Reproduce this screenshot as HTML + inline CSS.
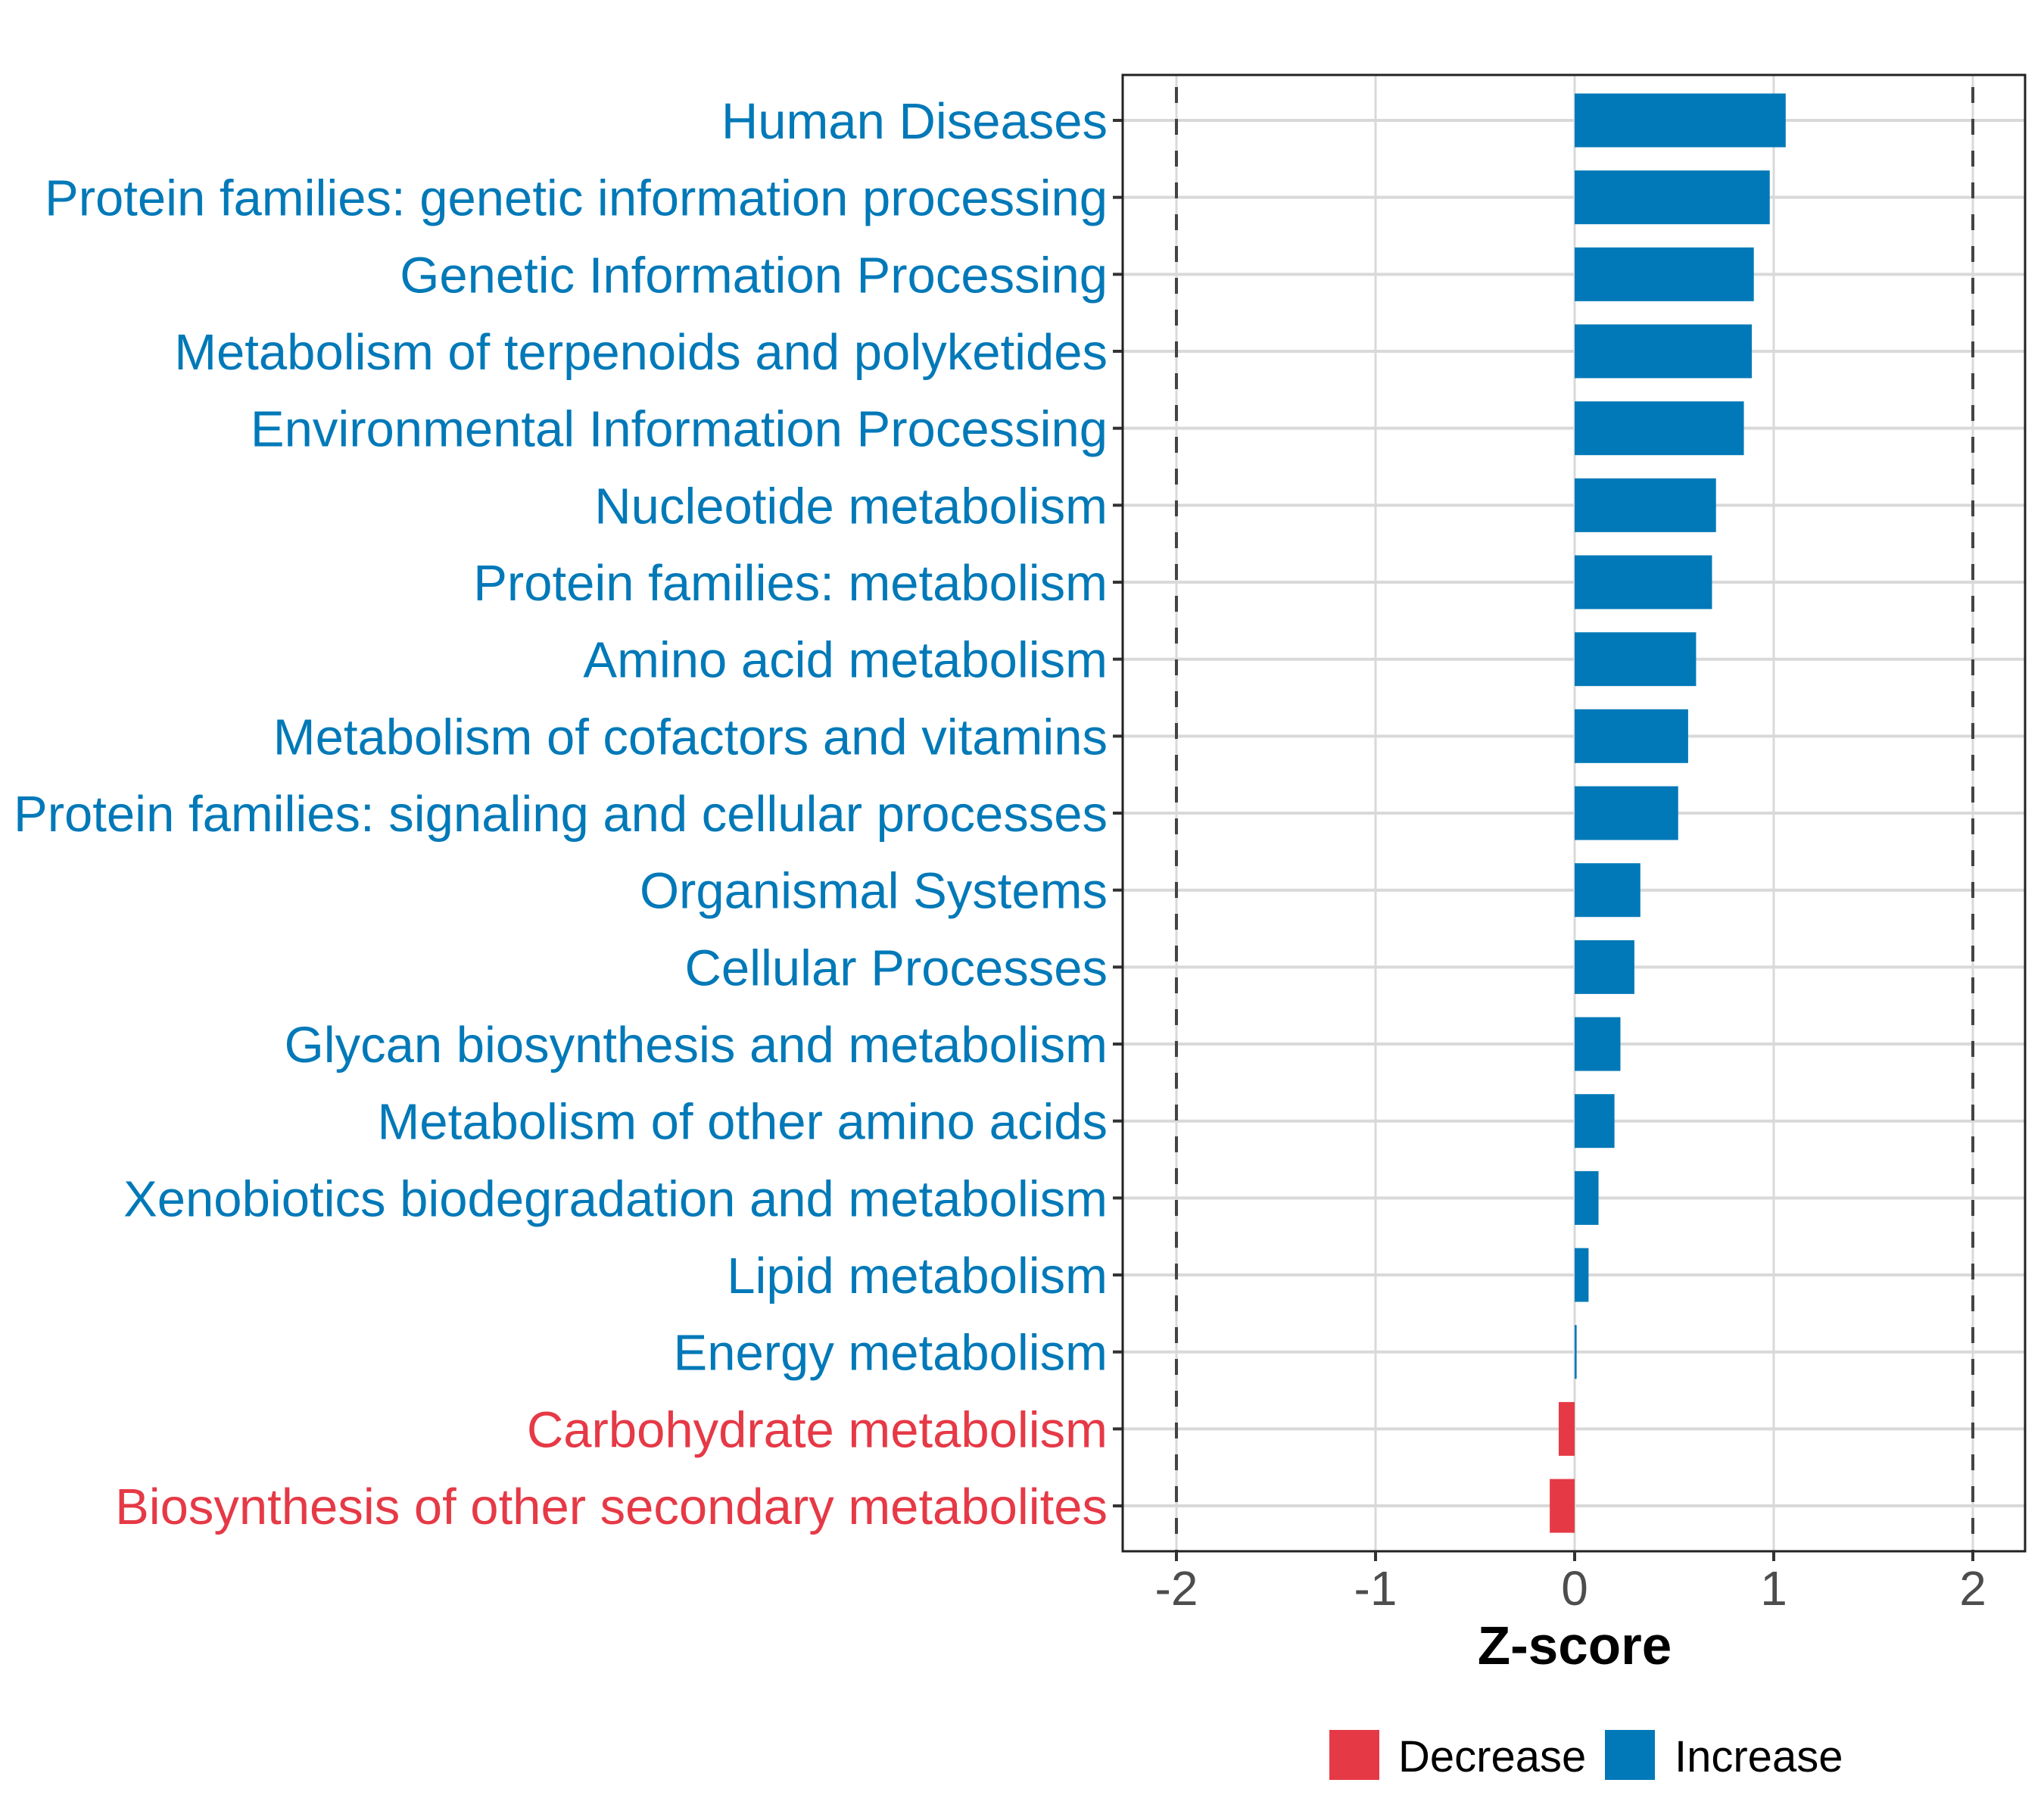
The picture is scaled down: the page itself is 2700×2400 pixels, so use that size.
<!DOCTYPE html>
<html><head><meta charset="utf-8"><style>
html,body{margin:0;padding:0;background:#fff;}
svg{display:block;font-family:"Liberation Sans",sans-serif;}
</style></head><body>
<svg id="chart" width="2700" height="2400" viewBox="0 0 2700 2400" xmlns="http://www.w3.org/2000/svg">
<rect width="2700" height="2400" fill="#fff"/>
<g id="grid"></g><g id="bars"></g><g id="axes"></g>
</svg>
<script>
const categories = ["Human Diseases","Protein families: genetic information processing","Genetic Information Processing","Metabolism of terpenoids and polyketides","Environmental Information Processing","Nucleotide metabolism","Protein families: metabolism","Amino acid metabolism","Metabolism of cofactors and vitamins","Protein families: signaling and cellular processes","Organismal Systems","Cellular Processes","Glycan biosynthesis and metabolism","Metabolism of other amino acids","Xenobiotics biodegradation and metabolism","Lipid metabolism","Energy metabolism","Carbohydrate metabolism","Biosynthesis of other secondary metabolites"];
const zscores = [1.06,0.98,0.90,0.89,0.85,0.71,0.69,0.61,0.57,0.52,0.33,0.30,0.23,0.20,0.12,0.07,0.01,-0.08,-0.125];
const xTicks = [-2,-1,0,1,2];
const xTickLabels = ["-2","-1","0","1","2"];
const thresholds = [-2,2];

const NS="http://www.w3.org/2000/svg";
const L=1483,R=2675,T=99,B=2049,X0=2080,U=263,ROW0=159,STEP=101.67,BH=71;
const BLUE="#0179B8",RED="#E63946";
function xs(v){return X0+v*U;}
function ys(i){return ROW0+i*STEP;}
function mk(tag,attrs,parent,text){const e=document.createElementNS(NS,tag);for(const k in attrs)e.setAttribute(k,attrs[k]);if(text!==undefined)e.textContent=text;parent.appendChild(e);return e;}
const grid=document.getElementById('grid'),bars=document.getElementById('bars'),axes=document.getElementById('axes');
xTicks.forEach((t,i)=>{
  const g=mk('line',{x1:xs(t),x2:xs(t),y1:T,y2:B,stroke:'#d9d9d9','stroke-width':3},grid);
  
  
});
categories.forEach((c,i)=>{
  const g=mk('line',{x1:L,x2:R,y1:ys(i),y2:ys(i),stroke:'#d9d9d9','stroke-width':4},grid);
  
  
});
zscores.forEach((v,i)=>{
  const x=Math.min(xs(0),xs(v)),w=Math.max(Math.abs(xs(v)-xs(0)),2);
  const r=mk('rect',{x:x,y:ys(i)-BH/2,width:w,height:BH,fill:v<0?RED:BLUE},bars);
  
  
  const col=v<0?RED:BLUE;
  const t=mk('text',{x:1463,y:ys(i)+24,'text-anchor':'end','font-size':67,fill:col},axes,categories[i]);
  
  
  const tk=mk('line',{x1:1470,x2:L,y1:ys(i),y2:ys(i),stroke:'#333','stroke-width':4},axes);
  
  
});
thresholds.forEach(t=>{
  const d=mk('line',{x1:xs(t),x2:xs(t),y1:T,y2:B,stroke:'#444','stroke-width':4,'stroke-dasharray':'21,21','stroke-dashoffset':'-16'},bars);
  
  
});
const frame=mk('rect',{x:L,y:T,width:R-L,height:B-T,fill:'none',stroke:'#222','stroke-width':3},axes);


xTicks.forEach((t,i)=>{
  const tk=mk('line',{x1:xs(t),x2:xs(t),y1:B,y2:B+13,stroke:'#333','stroke-width':4},axes);
  
  
  const tl=mk('text',{x:xs(t),y:2120,'text-anchor':'middle','font-size':64,fill:'#4d4d4d'},axes,xTickLabels[i]);
  
  
});
const xt=mk('text',{x:2080,y:2198,'text-anchor':'middle','font-size':71,'font-weight':'bold',fill:'#000'},axes,'Z-score');


const k1=mk('rect',{x:1756,y:2285,width:66,height:66,fill:RED},axes);


const t1=mk('text',{x:1847,y:2340,'font-size':58,fill:'#000'},axes,'Decrease');


const k2=mk('rect',{x:2120,y:2285,width:66,height:66,fill:BLUE},axes);


const t2=mk('text',{x:2212,y:2340,'font-size':58,fill:'#000'},axes,'Increase');


</script>
</body></html>
